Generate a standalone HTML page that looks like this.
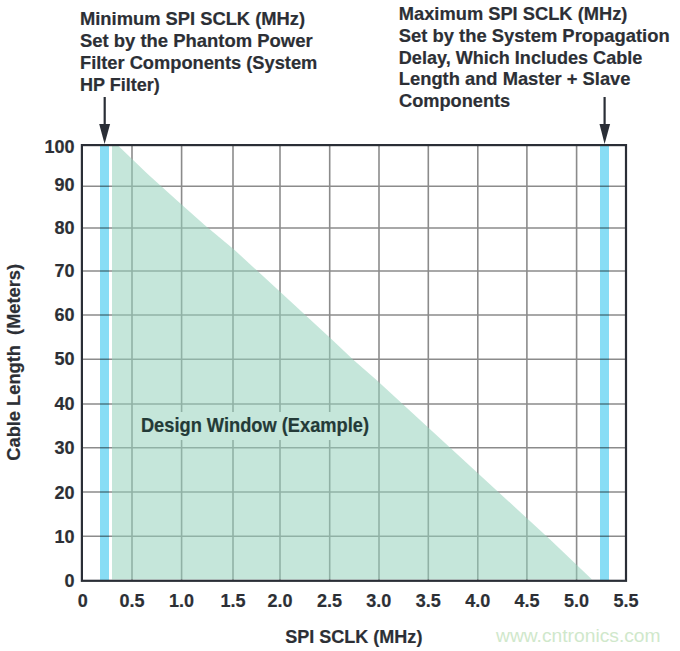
<!DOCTYPE html>
<html>
<head>
<meta charset="utf-8">
<style>
html,body{margin:0;padding:0;background:#fff;}
body{width:680px;height:651px;overflow:hidden;position:relative;}
svg{position:absolute;left:0;top:0;display:block;}
text{font-family:"Liberation Sans",Arial,sans-serif;font-weight:bold;font-size:18px;fill:#2c2f35;stroke:#2c2f35;stroke-width:0.2px;}
text.a{font-size:19px;}
</style>
</head>
<body>
<svg width="680" height="651" viewBox="0 0 680 651">
  <!-- blue bars -->
  <rect x="100" y="146" width="9" height="434" fill="#88ddf5"/>
  <rect x="600" y="146" width="9" height="434" fill="#88ddf5"/>
  <!-- gridlines -->
  <g stroke="#000" opacity="0.45" stroke-width="1.6" fill="none">
    <line x1="82" y1="186.2" x2="626" y2="186.2"/>
    <line x1="82" y1="228" x2="626" y2="228"/>
    <line x1="82" y1="271" x2="626" y2="271"/>
    <line x1="82" y1="315" x2="626" y2="315"/>
    <line x1="82" y1="359.2" x2="626" y2="359.2"/>
    <line x1="82" y1="404" x2="626" y2="404"/>
    <line x1="82" y1="447.8" x2="626" y2="447.8"/>
    <line x1="82" y1="492" x2="626" y2="492"/>
    <line x1="82" y1="536.2" x2="626" y2="536.2"/>
    <line x1="132" y1="145" x2="132" y2="580"/>
    <line x1="181.6" y1="145" x2="181.6" y2="580"/>
    <line x1="233" y1="145" x2="233" y2="580"/>
    <line x1="280" y1="145" x2="280" y2="580"/>
    <line x1="329.7" y1="145" x2="329.7" y2="580"/>
    <line x1="379" y1="145" x2="379" y2="580"/>
    <line x1="428.3" y1="145" x2="428.3" y2="580"/>
    <line x1="477.8" y1="145" x2="477.8" y2="580"/>
    <line x1="526.9" y1="145" x2="526.9" y2="580"/>
    <line x1="576.6" y1="145" x2="576.6" y2="580"/>
  </g>
  <!-- green design window -->
  <polygon points="112,146 118.5,146 148.2,174.4 176.5,200 204.6,225 234.6,250 332.4,340 352.7,359.2 376.5,380 550.6,540 592,579.5 112,579.5" fill="#95d2bc" fill-opacity="0.55"/>
  <!-- label background -->
  <rect x="136" y="412" width="220" height="28" fill="#c5e6da"/>
  <!-- frame -->
  <rect x="81.9" y="145.1" width="544.1" height="435.7" fill="none" stroke="#2a2e36" stroke-width="2.2"/>
  <!-- arrows -->
  <g fill="#2a2e36" stroke="none">
    <rect x="103.6" y="97" width="2.2" height="28"/>
    <polygon points="99.2,124 110.1,124 104.6,144"/>
    <rect x="603.5" y="97" width="2.2" height="28"/>
    <polygon points="599.5,124 610.1,124 604.6,144"/>
  </g>

  <!-- top-left annotation -->
  <text class="a" x="80" y="25.4" lengthAdjust="spacingAndGlyphs" textLength="225.1">Minimum SPI SCLK (MHz)</text>
  <text class="a" x="80" y="47.3" lengthAdjust="spacingAndGlyphs" textLength="232.6">Set by the Phantom Power</text>
  <text class="a" x="80" y="69.2" lengthAdjust="spacingAndGlyphs" textLength="237.3">Filter Components (System</text>
  <text class="a" x="80" y="91.1" lengthAdjust="spacingAndGlyphs" textLength="79.7">HP Filter)</text>

  <!-- top-right annotation -->
  <text class="a" x="398.8" y="20.3" lengthAdjust="spacingAndGlyphs" textLength="228.6">Maximum SPI SCLK (MHz)</text>
  <text class="a" x="398.8" y="42.0" lengthAdjust="spacingAndGlyphs" textLength="270.9">Set by the System Propagation</text>
  <text class="a" x="398.8" y="63.6" lengthAdjust="spacingAndGlyphs" textLength="243.5">Delay, Which Includes Cable</text>
  <text class="a" x="398.8" y="85.3" lengthAdjust="spacingAndGlyphs" textLength="231.7">Length and Master + Slave</text>
  <text class="a" x="399" y="107.0" lengthAdjust="spacingAndGlyphs" textLength="111.2">Components</text>

  <!-- y tick labels -->
  <g text-anchor="end">
    <text x="74.5" y="153">100</text>
    <text x="74.5" y="190.6">90</text>
    <text x="74.5" y="234.4">80</text>
    <text x="74.5" y="276.8">70</text>
    <text x="74.5" y="321">60</text>
    <text x="74.5" y="365.3">50</text>
    <text x="74.5" y="409.7">40</text>
    <text x="74.5" y="454">30</text>
    <text x="74.5" y="499">20</text>
    <text x="74.5" y="543.2">10</text>
    <text x="74.5" y="587.4">0</text>
  </g>

  <!-- x tick labels -->
  <g text-anchor="middle">
    <text x="82.8" y="607.3">0</text>
    <text x="132" y="607.3">0.5</text>
    <text x="181.6" y="607.3">1.0</text>
    <text x="233" y="607.3">1.5</text>
    <text x="280" y="607.3">2.0</text>
    <text x="329.4" y="607.3">2.5</text>
    <text x="378.8" y="607.3">3.0</text>
    <text x="428.2" y="607.3">3.5</text>
    <text x="477.8" y="607.3">4.0</text>
    <text x="526.9" y="607.3">4.5</text>
    <text x="576.6" y="607.3">5.0</text>
    <text x="626" y="607.3">5.5</text>
  </g>

  <!-- axis titles -->
  <text x="285.2" y="643" style="font-size:19px" lengthAdjust="spacingAndGlyphs" textLength="137.2">SPI SCLK (MHz)</text>
  <text transform="translate(19.6,460.7) rotate(-90)" xml:space="preserve" style="font-size:18.5px;white-space:pre" lengthAdjust="spacingAndGlyphs" textLength="196.8">Cable Length  (Meters)</text>

  <!-- design window label -->
  <text x="140.9" y="431.6" style="fill:#233a37;stroke:#233a37;font-size:19.5px" lengthAdjust="spacingAndGlyphs" textLength="228.2">Design Window (Example)</text>

  <!-- watermark -->
  <text x="496" y="642" style="font-weight:normal;font-size:19px;fill:#d0e8cb;stroke:none" lengthAdjust="spacingAndGlyphs" textLength="164.6">www.cntronics.com</text>
</svg>
</body>
</html>
